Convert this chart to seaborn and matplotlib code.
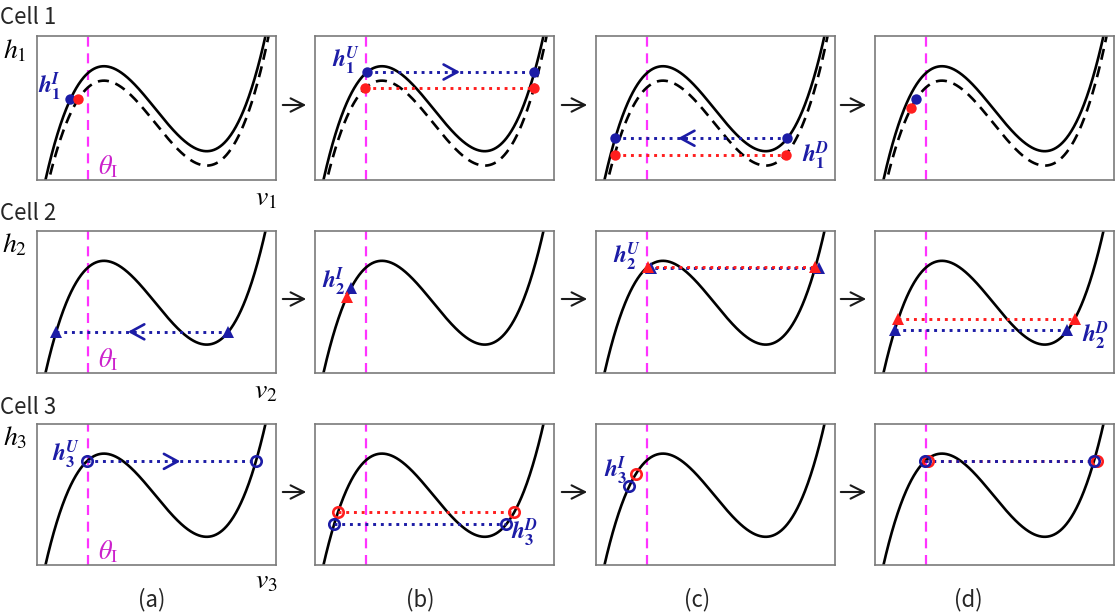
import numpy as np
import matplotlib
matplotlib.use("Agg")
import matplotlib.pyplot as plt
import matplotlib.transforms as mtransforms
import seaborn as sns

# ---------------- data ----------------
cell_names = ["Cell 1", "Cell 2", "Cell 3"]
panel_labels = ["(a)", "(b)", "(c)", "(d)"]
h_axis_labels = [r"$h_1$", r"$h_2$", r"$h_3$"]
v_axis_labels = [r"$v_1$", r"$v_2$", r"$v_3$"]
theta_label = r"$\theta_{\mathrm{I}}$"

# cubic nullcline shape (axes-fraction units): knees (local max, local min)
knee_v = [0.28, 0.71]
knee_h = [0.79, 0.20]
dashed_drop = 0.10       # shifted (dashed) nullcline of Cell 1
theta_I = 0.213          # threshold position

# marks per panel: (colour, h level, on dashed curve, kind, arrow (direction, tip v) or None)
# kind 'pt' = single point on left branch, 'jump' = dotted jump left<->right branch
cell1_marks = [
    [("blue", 0.56, False, "pt", None), ("red", 0.56, True, "pt", None)],
    [("blue", 0.75, False, "jump", ("R", 0.607)), ("red", 0.64, True, "jump", None)],
    [("blue", 0.29, False, "jump", ("L", 0.343)), ("red", 0.175, True, "jump", None)],
    [("blue", 0.56, True, "pt", None), ("red", 0.50, True, "pt", None)],
]
cell2_marks = [
    [("blue", 0.29, False, "jump", ("L", 0.38))],
    [("blue", 0.60, False, "pt", None), ("red", 0.534, False, "pt", None)],
    [("blue", 0.742, False, "jump", None), ("red", 0.75, False, "jump", None)],
    [("red", 0.38, False, "jump", None), ("blue", 0.30, False, "jump", None)],
]
cell3_marks = [
    [("blue", 0.735, False, "jump", ("R", 0.60))],
    [("red", 0.375, False, "jump", None), ("blue", 0.29, False, "jump", None)],
    [("red", 0.644, False, "pt", None), ("blue", 0.56, False, "pt", None)],
    [("red", 0.735, False, "jump", None), ("blue", 0.735, False, "jump", None)],
]
cells_marks = [cell1_marks, cell2_marks, cell3_marks]
cell_markers = ["o", "^", "o_open"]

# point annotations: (row, col, text)
notes_text = [
    (0, 0, r"$\mathbfit{h}_{\mathbf{1}}^{\mathbfit{I}}$"),
    (0, 1, r"$\mathbfit{h}_{\mathbf{1}}^{\mathbfit{U}}$"),
    (0, 2, r"$\mathbfit{h}_{\mathbf{1}}^{\mathbfit{D}}$"),
    (1, 1, r"$\mathbfit{h}_{\mathbf{2}}^{\mathbfit{I}}$"),
    (1, 2, r"$\mathbfit{h}_{\mathbf{2}}^{\mathbfit{U}}$"),
    (1, 3, r"$\mathbfit{h}_{\mathbf{2}}^{\mathbfit{D}}$"),
    (2, 0, r"$\mathbfit{h}_{\mathbf{3}}^{\mathbfit{U}}$"),
    (2, 1, r"$\mathbfit{h}_{\mathbf{3}}^{\mathbfit{D}}$"),
    (2, 2, r"$\mathbfit{h}_{\mathbf{3}}^{\mathbfit{I}}$"),
]

# ---------------- layout / style ----------------
W, H = 1120, 616
col_left = [37, 315, 596, 875]
col_width = 239
row_top = [36, 231, 424]
row_height = [144, 142, 141]
# note positions in axes fraction (x, y, ha)
notes_pos = [
    (0.10, 0.65, "right"), (0.19, 0.83, "right"), (0.86, 0.17, "left"),
    (0.13, 0.64, "right"), (0.19, 0.82, "right"), (0.865, 0.26, "left"),
    (0.18, 0.78, "right"), (0.82, 0.23, "left"), (0.13, 0.67, "right"),
]
# small pixel nudges so overlapping markers peek out as in the original
marker_nudge = {(1, 2, "blue"): 4, (2, 3, "red"): 3}
colors = {"blue": "#1c1ca6", "red": "#ff1e1e"}
magenta_line = "#ff33ff"
magenta_text = "#cc22cc"

sns.set_theme(style="white")
plt.rcParams["font.family"] = ["DejaVu Sans"]
plt.rcParams["mathtext.fontset"] = "stix"

fig = plt.figure(figsize=(W / 100, H / 100), dpi=100)

vc = (knee_v[0] + knee_v[1]) / 2
sv = (knee_v[1] - knee_v[0]) / 2
hc = (knee_h[0] + knee_h[1]) / 2
A = (knee_h[0] - knee_h[1]) / 4


def nullcline(v):
    u = (v - vc) / sv
    return hc + A * (u ** 3 - 3 * u)


def branch_v(h, side):
    r = np.roots([1.0, 0.0, -3.0, -(h - hc) / A])
    r = r[np.abs(r.imag) < 1e-7].real
    u = r.min() if side == "L" else r.max()
    return vc + sv * u


vgrid = np.linspace(-0.02, 1.02, 600)


def fx(px):
    return px / W


def fy(py):
    return 1 - py / H


for r in range(3):
    for c in range(4):
        ax = fig.add_axes([fx(col_left[c]), fy(row_top[r] + row_height[r]),
                           col_width / W, row_height[r] / H])
        ax.set_xlim(0, 1)
        ax.set_ylim(0, 1)
        ax.set_xticks([])
        ax.set_yticks([])
        for sp in ax.spines.values():
            sp.set_color("#7a7a7a")
            sp.set_linewidth(1.2)
        # threshold
        ax.axvline(theta_I, color=magenta_line, lw=1.6, linestyle=(0, (4.5, 3)), zorder=1)
        # nullclines
        sns.lineplot(x=vgrid, y=nullcline(vgrid), ax=ax, color="black", lw=1.9,
                     sort=False, estimator=None, zorder=2)
        if r == 0:
            sns.lineplot(x=vgrid, y=nullcline(vgrid) - dashed_drop, ax=ax, color="black",
                         lw=1.9, linestyle=(0, (4.2, 2.6)), sort=False, estimator=None, zorder=2)
        marks = cells_marks[r][c]
        mk = cell_markers[r]
        for (ck, h, dashed, kind, arrow) in marks:
            col = colors[ck]
            hs = h + dashed_drop if dashed else h
            if kind == "pt":
                xs = [branch_v(hs, "L")]
                ys = [h]
            else:
                xs = [branch_v(hs, "L"), branch_v(hs, "R")]
                ys = [h, h]
                sns.lineplot(x=xs, y=ys, ax=ax, color=col, lw=2.1, linestyle=":",
                             sort=False, estimator=None, zorder=3)
                if arrow is not None:
                    d, tip = arrow
                    back = -0.03 if d == "R" else 0.03
                    ax.annotate("", xy=(tip, h), xytext=(tip + back, h),
                                arrowprops=dict(arrowstyle="->,head_length=0.55,head_width=0.3",
                                                color=col, lw=1.9, mutation_scale=18,
                                                shrinkA=0, shrinkB=0), zorder=4)
            nudge = marker_nudge.get((r, c, ck), 0)
            tr = mtransforms.offset_copy(ax.transData, fig=fig, x=nudge, y=0, units="dots")
            if mk == "o":
                kw = dict(marker="o", ms=7.5, mfc=col, mec=col, mew=0)
            elif mk == "^":
                kw = dict(marker="^", ms=8.5, mfc=col, mec=col, mew=0)
            else:
                kw = dict(marker="o", ms=7.5, mfc="none", mec=col, mew=1.9)
            sns.lineplot(x=xs, y=ys, ax=ax, linestyle="", sort=False, estimator=None,
                         zorder=5, transform=tr, **kw)
        if c == 0:
            ax.text(0.30, 0.09, theta_label, color=magenta_text, fontsize=19,
                    ha="center", va="center", transform=ax.transAxes)
        ax.set_xlabel("")
        ax.set_ylabel("")
        ax.set_xlim(0, 1)
        ax.set_ylim(0, 1)
        if ax.get_legend() is not None:
            ax.get_legend().remove()

# point annotations
axes = fig.axes
for (r, c, txt), (x, y, ha) in zip(notes_text, notes_pos):
    ax = axes[r * 4 + c]
    ax.text(x, y, txt, color=colors["blue"], fontsize=17, ha=ha, va="center",
            transform=ax.transAxes, zorder=6)

# row labels and axis names
cell_y = [18, 213, 407]
h_lab_y = [50, 244, 437]
v_lab_y = [197, 390, 580]
for r in range(3):
    fig.text(fx(0), fy(cell_y[r]), cell_names[r], fontsize=16, color="#262626",
             ha="left", va="center", family=["Noto Sans CJK SC", "DejaVu Sans"])
    fig.text(fx(15), fy(h_lab_y[r]), h_axis_labels[r], fontsize=20, color="black",
             ha="center", va="center")
    fig.text(fx(266), fy(v_lab_y[r]), v_axis_labels[r], fontsize=20, color="black",
             ha="center", va="center")

# arrows between panels
arrow_y = [105, 299, 492]
gaps = [(280, 309), (559, 590), (838, 869)]
for r in range(3):
    for (x0, x1) in gaps:
        fig.add_artist(matplotlib.patches.FancyArrowPatch(
            (fx(x0), fy(arrow_y[r])), (fx(x1), fy(arrow_y[r])),
            transform=fig.transFigure, arrowstyle="->,head_length=0.6,head_width=0.3",
            mutation_scale=16, color="#1a1a1a", lw=1.5))

# panel letters
panel_x = [152, 420, 697, 968]
for c in range(4):
    fig.text(fx(panel_x[c]), fy(600), panel_labels[c], fontsize=16, color="#262626",
             ha="center", va="center", family=["Noto Sans CJK SC", "DejaVu Sans"])

fig.savefig("out.png", dpi=100, facecolor="white")
